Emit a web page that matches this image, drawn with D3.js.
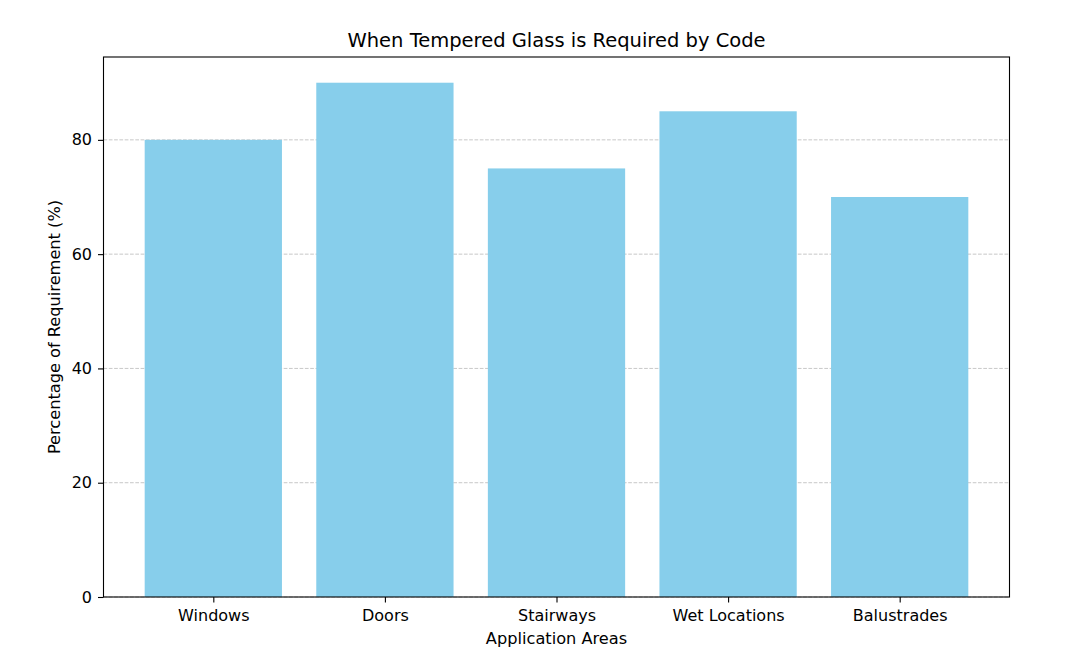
<!DOCTYPE html>
<html><head><meta charset="utf-8">
<script src="https://cdn.jsdelivr.net/npm/d3@7"></script>
<style>body{margin:0;background:#fff;} text{font-family:"DejaVu Sans",sans-serif;fill:#000;}</style>
</head><body>
<svg id="c" width="1069" height="655"></svg>
<script>
const categories = ["Windows", "Doors", "Stairways", "Wet Locations", "Balustrades"];
const values = [80, 90, 75, 85, 70];
const yTicks = [0, 20, 40, 60, 80];
const title = "When Tempered Glass is Required by Code";
const xLabel = "Application Areas";
const yLabel = "Percentage of Requirement (%)";

const svg = d3.select("#c");
const L = 103.5, R = 1009.5, T = 57, B = 597;
const n = categories.length;
const x = d3.scaleLinear().domain([-0.4 - 0.05 * (n - 0.2), n - 1 + 0.4 + 0.05 * (n - 0.2)]).range([L, R]);
const y = d3.scaleLinear().domain([0, d3.max(values) * 1.05]).range([B, T]);

// grid
svg.append("g").selectAll("line").data(yTicks).join("line")
  .attr("x1", L).attr("x2", R).attr("y1", d => y(d)).attr("y2", d => y(d))
  .attr("stroke", "#b0b0b0").attr("stroke-opacity", 0.7).attr("stroke-width", 1)
  .attr("stroke-dasharray", "3.7,1.6");

// bars
svg.append("g").selectAll("rect").data(values).join("rect")
  .attr("x", (d, i) => x(i - 0.4)).attr("width", (d, i) => x(i + 0.4) - x(i - 0.4))
  .attr("y", d => y(d)).attr("height", d => y(0) - y(d))
  .attr("fill", "#87CEEB");

// axes
const xAxis = d3.axisBottom(x).tickValues(d3.range(n)).tickFormat(i => categories[i]).tickSize(5.5).tickPadding(7.5);
const yAxis = d3.axisLeft(y).tickValues(yTicks).tickSize(5.5).tickPadding(6);
const gx = svg.append("g").attr("transform", `translate(0,${B})`).call(xAxis);
const gy = svg.append("g").attr("transform", `translate(${L},0)`).call(yAxis);
[gx, gy].forEach(g => {
  g.select(".domain").remove();
  g.selectAll(".tick line").attr("stroke", "#000").attr("stroke-width", 1.1);
  g.selectAll(".tick text").attr("font-size", "16px").attr("font-family", "DejaVu Sans");
});

// frame
svg.append("rect").attr("x", L).attr("y", T).attr("width", R - L).attr("height", B - T)
  .attr("fill", "none").attr("stroke", "#000").attr("stroke-width", 1.1);

svg.append("text").attr("x", (L + R) / 2).attr("y", T - 10).attr("text-anchor", "middle")
  .attr("font-size", "19.5px").text(title);
svg.append("text").attr("x", (L + R) / 2).attr("y", 644).attr("text-anchor", "middle")
  .attr("font-size", "16.2px").text(xLabel);
svg.append("text").attr("transform", `translate(60,${(T + B) / 2}) rotate(-90)`).attr("text-anchor", "middle")
  .attr("font-size", "16.2px").text(yLabel);
</script>
</body></html>
